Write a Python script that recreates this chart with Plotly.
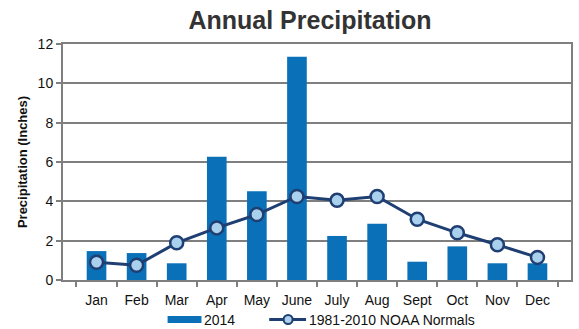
import plotly.graph_objects as go

months = ["Jan", "Feb", "Mar", "Apr", "May", "June", "July", "Aug", "Sept", "Oct", "Nov", "Dec"]
precip_2014 = [1.47, 1.37, 0.85, 6.27, 4.51, 11.35, 2.24, 2.86, 0.93, 1.71, 0.85, 0.85]
normals_1981_2010 = [0.90, 0.75, 1.89, 2.65, 3.33, 4.25, 4.05, 4.25, 3.09, 2.40, 1.79, 1.15]
y_ticks = [0, 2, 4, 6, 8, 10, 12]

BAR_COLOR = "#0a70b8"
LINE_COLOR = "#1f3f73"
MARKER_FILL = "#a9d0ec"
GRID = "#7f7f7f"
FONT = "Liberation Sans, Arial, sans-serif"

W, H = 579, 329
ML, MR, MT, MB = 63, 6, 44, 49
PW, PH = W - ML - MR, H - MT - MB

fig = go.Figure()
fig.add_trace(go.Bar(
    x=months, y=precip_2014, name="2014",
    marker=dict(color=BAR_COLOR, line=dict(width=0)),
    showlegend=False,
))
fig.add_trace(go.Scatter(
    x=months, y=normals_1981_2010, name="1981-2010 NOAA Normals",
    mode="lines+markers",
    line=dict(color=LINE_COLOR, width=3),
    marker=dict(symbol="circle", size=13, color=MARKER_FILL,
                line=dict(color=LINE_COLOR, width=2.5)),
    showlegend=False,
))

# Custom legend below the plot; pixel positions converted to paper (plot-area) fractions
def px(x):
    return (x - ML) / PW
def py(y):
    return (H - MB - y) / PH

shapes = [
    dict(type="rect", xref="paper", yref="paper",
         x0=px(168), x1=px(202), y0=py(323), y1=py(316),
         fillcolor=BAR_COLOR, line=dict(width=0)),
    dict(type="line", xref="paper", yref="paper",
         x0=px(270), x1=px(307), y0=py(319.5), y1=py(319.5),
         line=dict(color=LINE_COLOR, width=3)),
    dict(type="circle", xref="paper", yref="paper",
         x0=px(284.5), x1=px(293.5), y0=py(324), y1=py(315),
         fillcolor=MARKER_FILL, line=dict(color=LINE_COLOR, width=2)),
]
annotations = [
    dict(text="2014", xref="paper", yref="paper", x=px(203), y=py(319.5),
         xanchor="left", yanchor="middle", showarrow=False,
         font=dict(family=FONT, size=14, color="#111")),
    dict(text="1981-2010 NOAA Normals", xref="paper", yref="paper", x=px(308), y=py(319.5),
         xanchor="left", yanchor="middle", showarrow=False,
         font=dict(family=FONT, size=14, color="#111")),
]

fig.update_layout(
    width=W, height=H,
    margin=dict(l=ML, r=MR, t=MT, b=MB),
    paper_bgcolor="white", plot_bgcolor="white",
    bargap=0.51,
    title=dict(text="<b>Annual Precipitation</b>", x=310 / W, xanchor="center",
               y=1 - 20 / H, yanchor="middle",
               font=dict(family=FONT, size=25, color="#333333")),
    font=dict(family=FONT, size=14, color="#111"),
    shapes=shapes, annotations=annotations,
    showlegend=False,
)
fig.update_xaxes(
    type="category", tickson="boundaries", ticks="outside", ticklen=5,
    tickcolor=GRID, tickwidth=1.5, showline=True, linecolor=GRID, linewidth=2, mirror=True,
    showgrid=False, ticklabelstandoff=6,
    tickfont=dict(family=FONT, size=14, color="#111"),
)
fig.update_yaxes(
    range=[0, 12], tickvals=y_ticks, ticks="outside", ticklen=5, tickcolor=GRID, tickwidth=1.5,
    showline=True, linecolor=GRID, linewidth=2, mirror=True,
    showgrid=True, gridcolor=GRID, gridwidth=1.5, zeroline=False,
    tickfont=dict(family=FONT, size=14, color="#111"),
    title=dict(text="<b>Precipitation (Inches)</b>", standoff=7,
               font=dict(family=FONT, size=13, color="#111")),
)

fig.write_html("out.html")
